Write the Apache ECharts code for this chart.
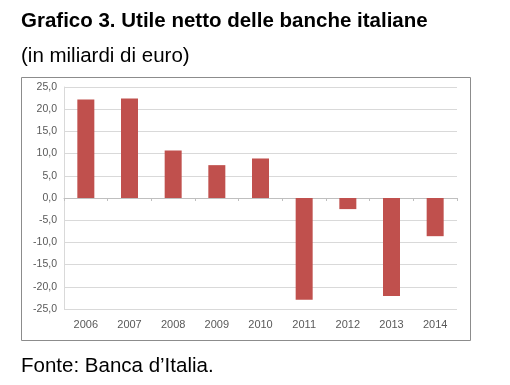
<!DOCTYPE html>
<html><head><meta charset="utf-8">
<script src="https://cdn.jsdelivr.net/npm/echarts@6/dist/echarts.min.js"></script>
<style>html,body{margin:0;padding:0;background:#fff}#c{width:510px;height:385px}</style>
</head><body><div id="c"></div>
<script>
const categories = ['2006','2007','2008','2009','2010','2011','2012','2013','2014'];
const utileNetto = [22.2, 22.4, 10.7, 7.4, 8.9, -22.9, -2.5, -22.1, -8.6];
const titleText = 'Grafico 3. Utile netto delle banche italiane';
const subtitleText = '(in miliardi di euro)';
const sourceText = 'Fonte: Banca d\u2019Italia.';

const chart = echarts.init(document.getElementById('c'), null, {renderer:'canvas'});
chart.setOption({
  animation: false,
  backgroundColor: '#fff',
  title: [
    {text: titleText, left: 21, top: 11, padding: 0,
     textStyle: {fontFamily: 'Liberation Sans, Arial', fontWeight: 'bold', fontSize: 20.5, color: '#000'}},
    {text: subtitleText, left: 21, top: 46, padding: 0,
     textStyle: {fontFamily: 'Liberation Sans, Arial', fontWeight: 'normal', fontSize: 20.5, color: '#000'}},
    {text: sourceText, left: 21, top: 356, padding: 0,
     textStyle: {fontFamily: 'Liberation Sans, Arial', fontWeight: 'normal', fontSize: 20.5, color: '#000'}}
  ],
  graphic: [
    {type: 'rect', shape: {x: 21.5, y: 77.5, width: 449, height: 263},
     style: {fill: null, stroke: '#8c8c8c', lineWidth: 1}, z: -1}
  ],
  grid: {left: 64, right: 53, top: 87, bottom: 76},
  xAxis: [
    {type: 'category', data: categories,
     axisLine: {onZero: true, lineStyle: {color: '#bfbfbf'}},
     axisTick: {show: true, length: 3, inside: false, lineStyle: {color: '#bfbfbf'}},
     axisLabel: {show: false}},
    {type: 'category', data: categories, position: 'bottom',
     axisLine: {show: false, onZero: false}, axisTick: {show: false},
     axisLabel: {show: true, margin: 10, fontFamily: 'Liberation Sans, Arial', fontSize: 11, color: '#595959'}}
  ],
  yAxis: {
    type: 'value', min: -25, max: 25, interval: 5,
    axisLine: {show: true, lineStyle: {color: '#d9d9d9'}},
    axisTick: {show: false},
    splitLine: {lineStyle: {color: '#d9d9d9', width: 1}},
    axisLabel: {margin: 7, fontFamily: 'Liberation Sans, Arial', fontSize: 10.5, color: '#595959',
      formatter: v => v.toFixed(1).replace('.', ',')}
  },
  series: [{
    type: 'bar', xAxisIndex: 0, data: utileNetto, barWidth: 17,
    itemStyle: {color: '#c0504d'}
  }]
});
</script></body></html>
